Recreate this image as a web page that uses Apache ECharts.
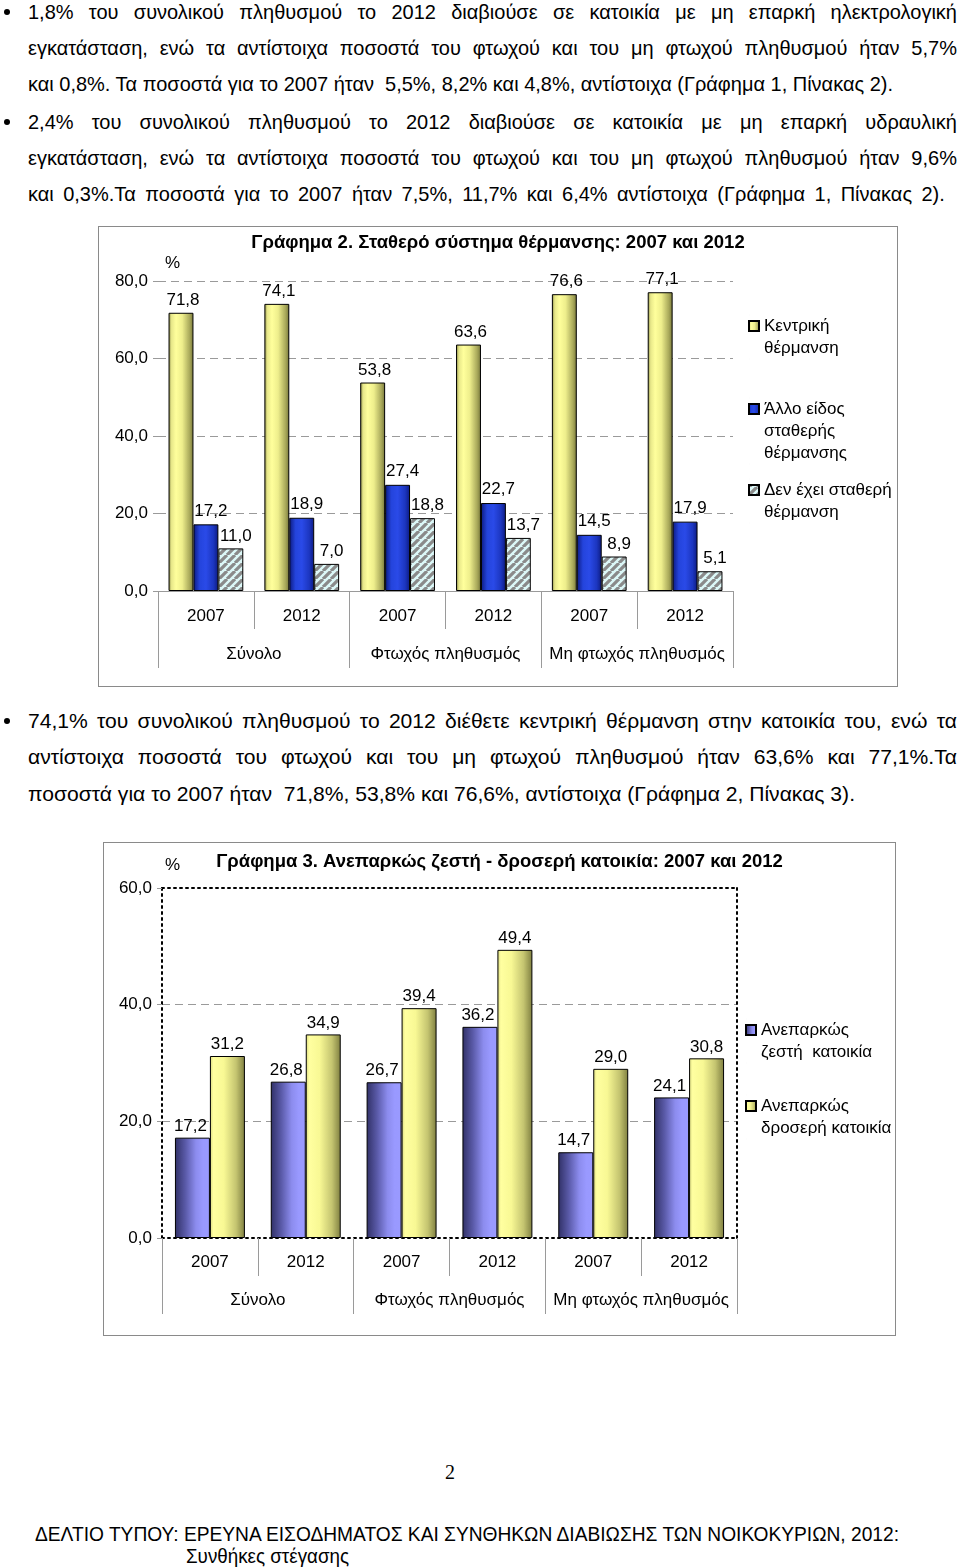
<!DOCTYPE html>
<html><head><meta charset="utf-8">
<script src="https://cdn.jsdelivr.net/npm/echarts@6.0.0/dist/echarts.min.js"></script>
<style>
html,body{margin:0;padding:0;background:#fff}
body{width:960px;height:1568px;position:relative;overflow:hidden;font-family:'Liberation Sans',Arial,sans-serif;color:#000}
.ln{position:absolute;white-space:pre;transform-origin:0 50%;line-height:24px}
.ln.j{display:flex;justify-content:space-between;white-space:nowrap}
.bul{position:absolute;width:6px;height:6px;border-radius:50%;background:#000}
.box{position:absolute;border:1px solid #8a8a8a;box-sizing:border-box;background:#fff}
</style></head><body>
<div class="bul" style="left:4px;top:9px"></div>
<div class="bul" style="left:4px;top:119px"></div>
<div class="bul" style="left:4px;top:718px"></div>
<div id="c2" class="box" style="left:98px;top:226px;width:800px;height:461px"></div>
<div id="c3" class="box" style="left:103px;top:842px;width:793px;height:494px"></div>
<div style="position:absolute;left:0;width:900px;top:1460px;text-align:center;font-family:'Liberation Serif',serif;font-size:20px;line-height:24px">2</div>
<script>
// ---------- chart data ----------
const years = ['2007', '2012', '2007', '2012', '2007', '2012'];
const groups = ['Σύνολο', 'Φτωχός πληθυσμός', 'Μη φτωχός πληθυσμός'];
const heatingNames = ['Κεντρική\nθέρμανση', 'Άλλο είδος\nσταθερής\nθέρμανσης', 'Δεν έχει σταθερή\nθέρμανση'];
const centralHeating = [71.8, 74.1, 53.8, 63.6, 76.6, 77.1];
const otherFixedHeating = [17.2, 18.9, 27.4, 22.7, 14.5, 17.9];
const noFixedHeating = [11.0, 7.0, 18.8, 13.7, 8.9, 5.1];
const yTicks2 = [0, 20, 40, 60, 80];
const dwellingNames = ['Ανεπαρκώς\nζεστή  κατοικία', 'Ανεπαρκώς\nδροσερή κατοικία'];
const notWarm = [17.2, 26.8, 26.7, 36.2, 14.7, 24.1];
const notCool = [31.2, 34.9, 39.4, 49.4, 29.0, 30.8];
const yTicks3 = [0, 20, 40, 60];
const title2 = 'Γράφημα 2. Σταθερό σύστημα θέρμανσης: 2007 και 2012';
const title3 = 'Γράφημα 3. Ανεπαρκώς ζεστή - δροσερή κατοικία: 2007 και 2012';

// ---------- page text ----------
const textLines = [
 {y:12, g:'a', x1:957, t:'1,8% του συνολικού πληθυσμού το 2012 διαβιούσε σε κατοικία με μη επαρκή ηλεκτρολογική'},
 {y:48, g:'a', x1:957, t:'εγκατάσταση, ενώ τα αντίστοιχα ποσοστά του φτωχού και του μη φτωχού πληθυσμού ήταν 5,7%'},
 {y:84, g:'a', ref:true, x1:893, t:'και 0,8%. Τα ποσοστά για το 2007 ήταν  5,5%, 8,2% και 4,8%, αντίστοιχα (Γράφημα 1, Πίνακας 2).'},
 {y:122, g:'a', x1:957, t:'2,4% του συνολικού πληθυσμού το 2012 διαβιούσε σε κατοικία με μη επαρκή υδραυλική'},
 {y:158, g:'a', x1:957, t:'εγκατάσταση, ενώ τα αντίστοιχα ποσοστά του φτωχού και του μη φτωχού πληθυσμού ήταν 9,6%'},
 {y:194, g:'a', x1:945, t:'και 0,3%.Τα ποσοστά για το 2007 ήταν 7,5%, 11,7% και 6,4% αντίστοιχα (Γράφημα 1, Πίνακας 2).'},
 {y:721, g:'c', x1:957, t:'74,1% του συνολικού πληθυσμού το 2012 διέθετε κεντρική θέρμανση στην κατοικία του, ενώ τα'},
 {y:757, g:'c', x1:957, t:'αντίστοιχα ποσοστά του φτωχού και του μη φτωχού πληθυσμού ήταν 63,6% και 77,1%.Τα'},
 {y:794, g:'c', ref:true, x1:855, t:'ποσοστά για το 2007 ήταν  71,8%, 53,8% και 76,6%, αντίστοιχα (Γράφημα 2, Πίνακας 3).'},
 {y:1534, g:'d', ref:true, x0:35, x1:899, fs:20, t:'ΔΕΛΤΙΟ ΤΥΠΟΥ: ΕΡΕΥΝΑ ΕΙΣΟΔΗΜΑΤΟΣ ΚΑΙ ΣΥΝΘΗΚΩΝ ΔΙΑΒΙΩΣΗΣ ΤΩΝ ΝΟΙΚΟΚΥΡΙΩΝ, 2012:'},
 {y:1556, g:'e', ref:true, x0:186, x1:349, fs:20, t:'Συνθήκες στέγασης'}
];

(function placeText(){
  const meas = document.createElement('span');
  meas.style.cssText = "position:absolute;visibility:hidden;white-space:pre;font-family:'Liberation Sans',Arial,sans-serif;left:0;top:0";
  document.body.appendChild(meas);
  const width = (t, fs) => { meas.style.fontSize = fs + 'px'; meas.textContent = t; return meas.getBoundingClientRect().width; };
  const scale = {};
  textLines.forEach(l => {
    l.fs = l.fs || 21; l.x0 = l.x0 || 28;
    if (l.ref) scale[l.g] = (l.x1 - l.x0) / width(l.t, l.fs);
  });
  textLines.forEach(l => {
    const d = document.createElement('div');
    d.className = 'ln' + (l.ref ? '' : ' j');
    d.style.fontSize = l.fs + 'px';
    d.style.left = l.x0 + 'px';
    d.style.top = (l.y - 12) + 'px';
    let s = scale[l.g];
    if (!l.ref) {
      const minW = width(l.t, l.fs);
      if (minW * s > (l.x1 - l.x0)) s = (l.x1 - l.x0) / minW;
      d.style.width = ((l.x1 - l.x0) / s) + 'px';
      l.t.split(' ').forEach(w => { const sp = document.createElement('span'); sp.textContent = w; d.appendChild(sp); });
    } else {
      d.textContent = l.t;
    }
    d.style.transform = 'scaleX(' + s + ')';
    document.body.appendChild(d);
  });
  meas.remove();
})();

// ---------- charts ----------
const F = "'Liberation Sans', Arial, sans-serif";
const FS = 17;
const fmt = v => Number(v).toFixed(1).replace('.', ',');
const grad = stops => ({type:'linear', x:0, y:0, x2:1, y2:0, colorStops: stops.map(s => ({offset:s[0], color:s[1]}))});
const yellow2 = grad([[0,'#8c8c48'],[0.12,'#e8e88a'],[0.3,'#ffff9c'],[0.55,'#eeee8c'],[0.85,'#a8a85a'],[1,'#76763a']]);
const blue2 = grad([[0,'#0c1a80'],[0.25,'#2444dc'],[0.5,'#2a4ae8'],[0.8,'#1c36c0'],[1,'#0c1a80']]);
const yellow3 = grad([[0,'#d8d880'],[0.1,'#ffffa0'],[0.4,'#f8f894'],[0.75,'#c4c470'],[1,'#7e7e40']]);
const blue3 = grad([[0,'#303066'],[0.3,'#5a5aa8'],[0.6,'#8c8cee'],[0.8,'#9999ff'],[1,'#9a9aff']]);
function hatch(){
  const c = document.createElement('canvas'); c.width = 8; c.height = 8;
  const g = c.getContext('2d');
  g.fillStyle = '#dcf8f8'; g.fillRect(0, 0, 8, 8);
  g.strokeStyle = '#8a8a8a'; g.lineWidth = 3.2;
  g.beginPath();
  for (let k = -8; k <= 8; k += 8) { g.moveTo(k, 8); g.lineTo(k + 8, 0); }
  g.stroke();
  return c;
}
const hatchPattern = {image: hatch(), repeat: 'repeat'};
const gray = '#9a9a9a';
const LH = 22;

// legend item whose square sits beside the first text line
function legendItem(name, left, top, lines){
  const h = lines * LH;
  const y0 = (LH - 10) / 2;
  return {data:[{name:name, icon:'path://M0,' + y0 + 'h10v10h-10z M0,0l0.01,0 M0,' + h + 'l0.01,0'}],
    left:left, top:top, padding:0, orient:'vertical', itemWidth:10, itemHeight:h,
    selectedMode:false,
    textStyle:{fontFamily:F, fontSize:FS, lineHeight:LH, color:'#000'}};
}
function barSeries(name, data, color, dx, dist){
  return {name:name, type:'bar', data:data, xAxisIndex:0, yAxisIndex:0,
    itemStyle:{color:color, borderColor:'#000', borderWidth:1},
    label:{show:true, position:'top', distance:dist, offset:[dx,0], fontFamily:F, fontSize:FS, color:'#000', formatter:p => fmt(p.value)}};
}

// Chart 2
const ch2 = echarts.init(document.getElementById('c2'));
ch2.setOption({
  animation:false,
  textStyle:{fontFamily:F},
  title:{text:title2, left:'center', top:6, padding:0, textStyle:{fontFamily:F, fontSize:18.5, fontWeight:'bold', color:'#000'}},
  graphic:[{type:'text', left:66, top:28, style:{text:'%', fontFamily:F, fontSize:FS, fill:'#000'}}],
  legend:[legendItem(heatingNames[0], 649, 87, 2), legendItem(heatingNames[1], 649, 170, 3), legendItem(heatingNames[2], 649, 251, 2)],
  grid:{left:59, right:164, top:54, bottom:95},
  xAxis:[
    {type:'category', data:years, position:'bottom',
      axisLine:{lineStyle:{color:gray, width:1}},
      axisTick:{show:true, interval:0, length:38, lineStyle:{color:gray}},
      axisLabel:{interval:0, margin:17, fontSize:FS, color:'#000', fontFamily:F}},
    {type:'category', data:groups, position:'bottom',
      axisLine:{show:false},
      axisTick:{show:true, interval:0, length:77, lineStyle:{color:gray}},
      axisLabel:{interval:0, margin:55, fontSize:FS, color:'#000', fontFamily:F}}
  ],
  yAxis:{type:'value', min:yTicks2[0], max:yTicks2[yTicks2.length - 1], interval:yTicks2[1] - yTicks2[0],
    axisLine:{show:false},
    axisTick:{show:true, length:5, lineStyle:{color:gray}},
    axisLabel:{margin:10, fontSize:FS, color:'#000', fontFamily:F, formatter:v => fmt(v)},
    splitLine:{show:true, lineStyle:{color:gray, type:[8,5], width:1}}},
  series:[
    Object.assign(barSeries(heatingNames[0], centralHeating, yellow2, 2, 4), {barCategoryGap:'22%', barGap:'0%'}),
    Object.assign(barSeries(heatingNames[1], otherFixedHeating, blue2, 5, 5), {barCategoryGap:'22%', barGap:'0%'}),
    Object.assign(barSeries(heatingNames[2], noFixedHeating, hatchPattern, 5, 4), {barCategoryGap:'22%', barGap:'0%'})
  ]
});

// Chart 3
const dotted = {color:'#000', type:[2,4], width:2};
const ch3 = echarts.init(document.getElementById('c3'));
ch3.setOption({
  animation:false,
  textStyle:{fontFamily:F},
  title:{text:title3, left:'center', top:9, padding:0, textStyle:{fontFamily:F, fontSize:18.5, fontWeight:'bold', color:'#000'}},
  graphic:[{type:'text', left:61, top:14, style:{text:'%', fontFamily:F, fontSize:FS, fill:'#000'}}],
  legend:[legendItem(dwellingNames[0], 641, 175, 2), legendItem(dwellingNames[1], 641, 251, 2)],
  grid:{left:58, right:158, top:45, bottom:97},
  xAxis:[
    {type:'category', data:years, position:'bottom',
      axisLine:{lineStyle:dotted},
      axisTick:{show:true, interval:0, length:38, lineStyle:{color:gray, type:'solid', width:1}},
      axisLabel:{interval:0, margin:16, fontSize:FS, color:'#000', fontFamily:F}},
    {type:'category', data:groups, position:'bottom',
      axisLine:{show:false},
      axisTick:{show:true, interval:0, length:76, lineStyle:{color:gray}},
      axisLabel:{interval:0, margin:54, fontSize:FS, color:'#000', fontFamily:F}},
    {type:'category', data:years, position:'top',
      axisLine:{lineStyle:dotted}, axisTick:{show:false}, axisLabel:{show:false}}
  ],
  yAxis:[
    {type:'value', min:yTicks3[0], max:yTicks3[yTicks3.length - 1], interval:yTicks3[1] - yTicks3[0], position:'left',
      axisLine:{show:true, lineStyle:dotted},
      axisTick:{show:true, length:5, lineStyle:{color:gray, type:'solid', width:1}},
      axisLabel:{margin:10, fontSize:FS, color:'#000', fontFamily:F, formatter:v => fmt(v)},
      splitLine:{show:true, lineStyle:{color:['rgba(0,0,0,0)', gray, gray, 'rgba(0,0,0,0)'], type:[8,5], width:1}}},
    {type:'value', min:yTicks3[0], max:yTicks3[yTicks3.length - 1], interval:yTicks3[1] - yTicks3[0], position:'right',
      axisLine:{show:true, lineStyle:dotted}, axisTick:{show:false}, axisLabel:{show:false}, splitLine:{show:false}}
  ],
  series:[
    Object.assign(barSeries(dwellingNames[0], notWarm, blue3, -2, 3), {barCategoryGap:'27%', barGap:'0%'}),
    Object.assign(barSeries(dwellingNames[1], notCool, yellow3, 0, 3), {barCategoryGap:'27%', barGap:'0%'})
  ]
});
</script>
</body></html>
